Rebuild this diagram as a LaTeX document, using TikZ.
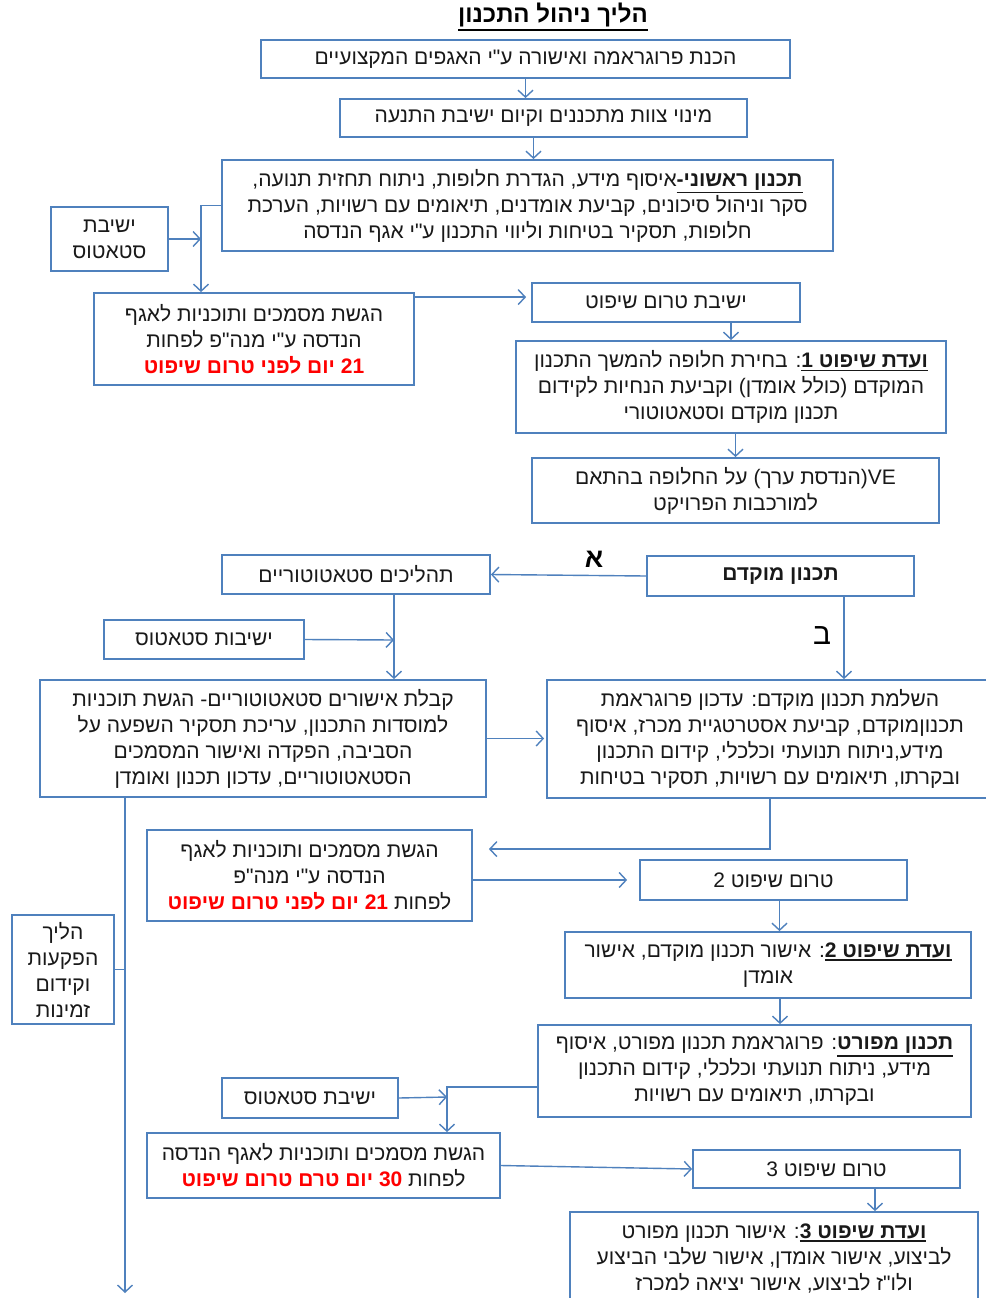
\documentclass[tikz,border=0pt]{standalone}
\usepackage{fontspec}
\setmainfont{Liberation Sans}
\newfontfamily\hebfont[Script=Hebrew]{Liberation Sans}
\newfontfamily\duefont[Script=Hebrew, Color=FF0000]{Liberation Sans}
\usepackage{tikz}
\usetikzlibrary{arrows.meta, positioning}
\usepackage{xcolor}
\TeXXeTstate=1

\definecolor{lineblue}{HTML}{4F81BD}
\newcommand{\heb}[1]{\beginR #1\endR}
\newcommand{\ltr}[1]{\beginL #1\endL{}}
\newcommand{\hul}[1]{\vtop{\hbox{\bfseries\beginR #1\endR}\kern1.6pt\hrule height 1.7pt}}
\newcommand{\due}[1]{{\duefont\bfseries #1}}

\begin{document}
\begin{tikzpicture}[
x=1pt, y=-1pt,
box/.style={draw=lineblue,
rectangle,
line width=1.8pt,
inner sep=0pt,
text=black!90,
font=\hebfont\fontsize{21}{26}\selectfont,
align=center},
arrow/.style={-{Straight Barb[length=7pt, width=15pt]}, line width=1.4pt, draw=lineblue},
link/.style={line width=1.4pt, draw=lineblue},
branchmark/.style={font=\hebfont\fontsize{30}{32}\selectfont}
]

\path[fill=white, use as bounding box] (0,0) rectangle (985,1298);

\node[font=\hebfont\bfseries\fontsize{24}{28}\selectfont] (title) at (553,17) {\hul{הליך ניהול התכנון}};

\node[box, minimum width=529pt, minimum height=38pt] (prog) at (525.5,59) {\heb{הכנת פרוגראמה ואישורה ע"י האגפים המקצועיים}};
\node[box, minimum width=407pt, minimum height=38pt] (team) at (543.5,118) {\heb{מינוי צוות מתכננים וקיום ישיבת התנעה}};
\node[box, minimum width=611pt, minimum height=91pt] (prelim) at (527.5,205.5) {\heb{\hul{תכנון ראשוני-}איסוף מידע, הגדרת חלופות, ניתוח תחזית תנועה,}\\ \heb{סקר וניהול סיכונים, קביעת אומדנים, תיאומים עם רשויות, הערכת}\\ \heb{חלופות, תסקיר בטיחות וליווי התכנון ע"י אגף הנדסה}};
\node[box, minimum width=117pt, minimum height=64pt] (stat1) at (109.5,239) {\heb{ישיבת}\\ \heb{סטאטוס}};
\node[box, minimum width=320pt, minimum height=92pt] (subm1) at (254,339) {\heb{הגשת מסמכים ותוכניות לאגף}\\ \heb{הנדסה ע"י מנה"פ לפחות}\\ \heb{\due{\ltr{21} יום לפני טרום שיפוט}}};
\node[box, minimum width=268pt, minimum height=39pt] (pre1) at (666,302.5) {\heb{ישיבת טרום שיפוט}};
\node[box, minimum width=430pt, minimum height=92pt] (comm1) at (731,387) {\heb{\hul{ועדת שיפוט 1}: בחירת חלופה להמשך התכנון}\\ \heb{המוקדם (כולל אומדן) וקביעת הנחיות לקידום}\\ \heb{תכנון מוקדם וסטאטוטורי}};
\node[box, minimum width=407pt, minimum height=65pt] (ve) at (735.5,490.5) {\heb{\ltr{VE}(הנדסת ערך) על החלופה בהתאם}\\ \heb{למורכבות הפרויקט}};

\node[box, minimum width=267pt, minimum height=40pt, font=\hebfont\bfseries\fontsize{21}{26}\selectfont] (early) at (780.5,576) {\heb{תכנון מוקדם}};
\node[box, minimum width=268pt, minimum height=39pt] (statut) at (356,574.5) {\heb{תהליכים סטאטוטוריים}};
\node[box, minimum width=200pt, minimum height=39pt] (stat2) at (204,639.5) {\heb{ישיבות סטאטוס}};
\node[box, minimum width=446pt, minimum height=117pt] (approv) at (263,738.5) {\heb{קבלת אישורים סטאטוטוריים- הגשת תוכניות}\\ \heb{למוסדות התכנון, עריכת תסקיר השפעה על}\\ \heb{הסביבה, הפקדה ואישור המסמכים}\\ \heb{הסטאטוטוריים, עדכון תכנון ואומדן}};
\node[box, minimum width=446pt, minimum height=118pt] (complete) at (770,739) {\heb{השלמת תכנון מוקדם: עדכון פרוגראמת}\\ \heb{תכנוןמוקדם, קביעת אסטרטגיית מכרז, איסוף}\\ \heb{מידע,ניתוח תנועתי וכלכלי, קידום התכנון}\\ \heb{ובקרתו, תיאומים עם רשויות, תסקיר בטיחות}};
\node[branchmark, font=\hebfont\bfseries\fontsize{27}{30}\selectfont] (alef) at (594,559) {\heb{א}};
\node[branchmark] (bet) at (822,636) {\heb{ב}};

\node[box, minimum width=325pt, minimum height=91pt] (subm2) at (309.5,875.5) {\heb{הגשת מסמכים ותוכניות לאגף}\\ \heb{הנדסה ע"י מנה"פ}\\ \heb{לפחות \due{\ltr{21} יום לפני טרום שיפוט}}};
\node[box, minimum width=267pt, minimum height=40pt] (pre2) at (773.5,880) {\heb{טרום שיפוט 2}};
\node[box, minimum width=406pt, minimum height=66pt] (comm2) at (768,965) {\heb{\hul{ועדת שיפוט 2}: אישור תכנון מוקדם, אישור}\\ \heb{אומדן}};
\node[box, minimum width=102pt, minimum height=109pt] (expro) at (63,969.5) {\heb{הליך}\\ \heb{הפקעות}\\ \heb{וקידום}\\ \heb{זמינות}};
\node[box, minimum width=433pt, minimum height=92pt] (detail) at (754.5,1071) {\heb{\hul{תכנון מפורט}:  פרוגראמת תכנון מפורט, איסוף}\\ \heb{מידע, ניתוח תנועתי וכלכלי, קידום התכנון}\\ \heb{ובקרתו, תיאומים עם רשויות}};
\node[box, minimum width=176pt, minimum height=40pt] (stat3) at (310,1098) {\heb{ישיבת סטאטוס}};
\node[box, minimum width=353pt, minimum height=65pt] (subm3) at (323.5,1165.5) {\heb{הגשת מסמכים ותוכניות לאגף הנדסה}\\ \heb{לפחות \due{\ltr{30} יום טרם טרום שיפוט}}};
\node[box, minimum width=267pt, minimum height=38pt] (pre3) at (826.5,1169) {\heb{טרום שיפוט 3}};
\node[box, minimum width=408pt, minimum height=92pt] (comm3) at (774,1258) {\heb{\hul{ועדת שיפוט 3}: אישור תכנון מפורט}\\ \heb{לביצוע, אישור אומדן, אישור שלבי הביצוע}\\ \heb{ולו"ז לביצוע, אישור יציאה למכרז}};

\coordinate (j1) at (201,239);
\coordinate (j2) at (394,640);
\coordinate (j3) at (447,1097);
\coordinate (tail) at (125,1293);

\draw[arrow] (prog.south) -- (prog.south |- team.north);
\draw[arrow] ([xshift=-10pt]team.south) -- ([xshift=-10pt]team.south |- prelim.north);
\draw[arrow] (stat1.east) -- (j1);
\draw[arrow] (prelim.west) -| (j1 |- subm1.north);
\draw[arrow, shorten >=5pt] ([yshift=-5pt]subm1.north east) -- ([yshift=-5pt]subm1.north east -| pre1.west);
\draw[arrow] (pre1.south -| comm1) -- (comm1.north);
\draw[arrow] (comm1.south -| ve) -- (ve.north);

\draw[arrow] (early.west) -- (statut.east);
\draw[arrow] ([xshift=63.5pt]early.south) -- ([xshift=63.5pt]early.south |- complete.north);
\draw[arrow] (stat2.east) -- (j2);
\draw[arrow] (statut.south -| j2) -- (approv.north -| j2);
\draw[arrow, shorten >=2pt] (approv.east) -- (approv.east -| complete.west);
\draw[arrow, shorten >=16pt] (complete.south) |- ([yshift=-20pt]subm2.north east);
\draw[arrow, shorten >=12pt] (subm2.east |- pre2) -- (pre2.west);
\draw[arrow] ([xshift=6pt]pre2.south) -- ([xshift=6pt]pre2.south |- comm2.north);
\draw[arrow] ([xshift=12pt]comm2.south) -- ([xshift=12pt]comm2.south |- detail.north);

\draw[arrow] (approv.south -| tail) -- (tail);
\draw[link] (expro.east) -- (expro.east -| tail);
\draw[arrow] (stat3.east) -- (j3);
\draw[arrow] ([yshift=-16pt]detail.west) -| (j3 |- subm3.north);
\draw[arrow] (subm3.east) -- (pre3.west);
\draw[arrow] ([xshift=48.5pt]pre3.south) -- ([xshift=48.5pt]pre3.south |- comm3.north);

\end{tikzpicture}
\end{document}
